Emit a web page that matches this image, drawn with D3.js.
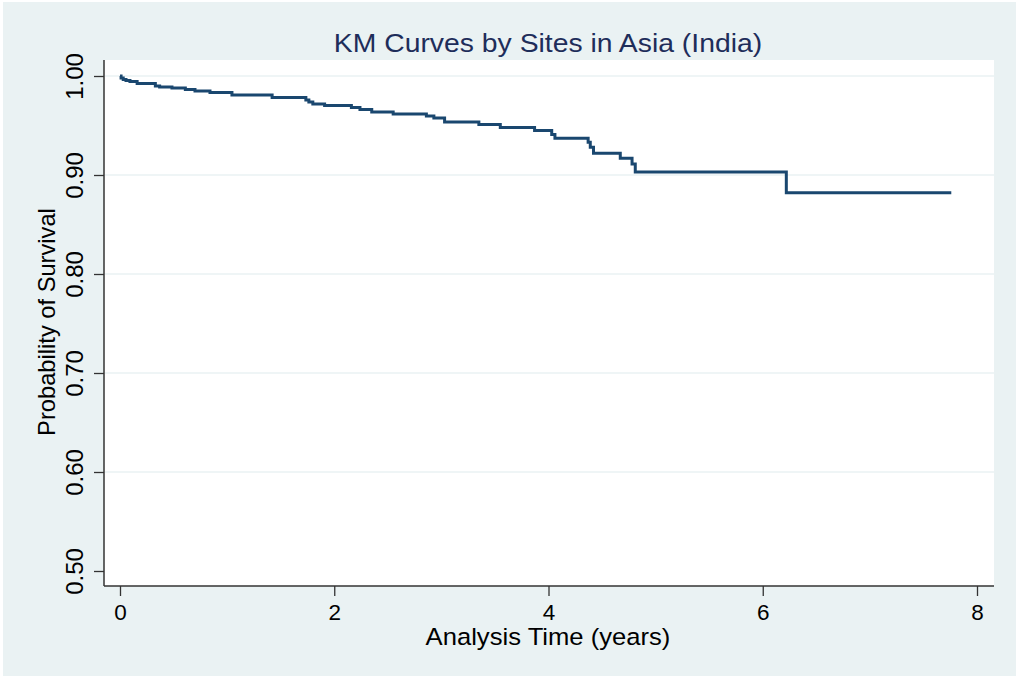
<!DOCTYPE html>
<html>
<head>
<meta charset="utf-8">
<script src="https://cdn.jsdelivr.net/npm/d3@7"></script>
<style>
  html, body { margin: 0; padding: 0; background: #ffffff; }
  svg { display: block; }
  text { font-family: "Liberation Sans", Arial, sans-serif; }
</style>
</head>
<body>
<svg id="chart" width="1019" height="678"></svg>
<script>
// Kaplan-Meier step curve: event times (years) and survival after each drop
const times    = [0, 0.01, 0.03, 0.056, 0.093, 0.16, 0.33, 0.37, 0.485, 0.61, 0.70, 0.84, 1.045, 1.42,
                  1.735, 1.763, 1.80, 1.91, 2.16, 2.24, 2.35, 2.55, 2.86, 2.93, 3.03, 3.35, 3.55, 3.87,
                  4.03, 4.06, 4.37, 4.39, 4.42, 4.67, 4.78, 4.81, 6.22];
const survival = [1.000, 0.998, 0.9965, 0.9955, 0.9944, 0.9924, 0.9899, 0.9889, 0.9879, 0.9864, 0.9848, 0.9833, 0.9808, 0.9783,
                  0.9758, 0.9737, 0.9717, 0.9702, 0.9682, 0.9662, 0.9636, 0.9616, 0.9596, 0.9576, 0.9535, 0.951, 0.948, 0.945,
                  0.941, 0.937, 0.933, 0.928, 0.922, 0.917, 0.911, 0.903, 0.882];
const lastTime = 7.76;

const xTicks = [0, 2, 4, 6, 8];
const yTicks = [0.5, 0.6, 0.7, 0.8, 0.9, 1.0];
const yGrid  = [0.6, 0.7, 0.8, 0.9, 1.0];

const titleText = "KM Curves by Sites in Asia (India)";
const xTitle = "Analysis Time (years)";
const yTitle = "Probability of Survival";

const W = 1019, H = 678;
const plot = { left: 104, right: 994, top: 60, bottom: 586 };
const stretch = 1.09;

const svg = d3.select("#chart");

// outer graph region
svg.append("rect").attr("x", 3).attr("y", 2).attr("width", W - 6).attr("height", H - 4)
  .attr("fill", "#eaf2f3");
// plot region
svg.append("rect").attr("x", plot.left).attr("y", plot.top)
  .attr("width", plot.right - plot.left).attr("height", plot.bottom - plot.top)
  .attr("fill", "#ffffff");

const x = d3.scaleLinear().domain([0, 8]).range([120, 977]);
const y = d3.scaleLinear().domain([0.5, 1.0]).range([571, 76]);

// horizontal grid lines
svg.append("g").selectAll("line").data(yGrid).join("line")
  .attr("x1", plot.left + 1).attr("x2", plot.right)
  .attr("y1", d => y(d)).attr("y2", d => y(d))
  .attr("stroke", "#eaf2f3").attr("stroke-width", 1.6);

// x axis
const xAxis = svg.append("g").attr("transform", `translate(0,${plot.bottom})`)
  .call(d3.axisBottom(x).tickValues(xTicks).tickFormat(d3.format("d")).tickSize(10).tickPadding(8));
xAxis.select(".domain").attr("d", `M${plot.left},0H${plot.right}`).attr("stroke", "#333").attr("stroke-width", 1.5);
xAxis.selectAll(".tick line").attr("stroke", "#333").attr("stroke-width", 1.3);
xAxis.selectAll(".tick text").attr("fill", "#000").attr("font-size", 22.5)
  .attr("font-family", "Liberation Sans, Arial, sans-serif");

// y axis
const yAxis = svg.append("g").attr("transform", `translate(${plot.left},0)`)
  .call(d3.axisLeft(y).tickValues(yTicks).tickFormat(d3.format(".2f")).tickSize(10).tickPadding(6));
yAxis.select(".domain").attr("d", `M0,${plot.top}V${plot.bottom}`).attr("stroke", "#333").attr("stroke-width", 1.5);
yAxis.selectAll(".tick line").attr("stroke", "#333").attr("stroke-width", 1.3);
yAxis.selectAll(".tick text")
  .attr("fill", "#000").attr("font-size", 24)
  .attr("font-family", "Liberation Sans, Arial, sans-serif")
  .attr("text-anchor", "middle")
  .attr("x", null).attr("dy", null)
  .attr("transform", "translate(-30,0) rotate(-90)")
  .attr("y", 9);

// survival curve as a step-after line
const pts = times.map((t, i) => [t, survival[i]]);
pts.push([lastTime, survival[survival.length - 1]]);
const line = d3.line().x(d => x(d[0])).y(d => y(d[1])).curve(d3.curveStepAfter);
svg.append("path").datum(pts).attr("d", line)
  .attr("fill", "none").attr("stroke", "#1a476f").attr("stroke-width", 3)
  .attr("stroke-linejoin", "miter");

// titles
svg.append("text").attr("transform", `translate(548,52) scale(${stretch},1)`)
  .attr("text-anchor", "middle").attr("font-size", 26).attr("fill", "#1e2d5a").text(titleText);
svg.append("text").attr("transform", `translate(548,645) scale(${stretch},1)`)
  .attr("text-anchor", "middle").attr("font-size", 23.5).attr("fill", "#000").text(xTitle);
svg.append("text").attr("transform", `translate(55,322) rotate(-90)`)
  .attr("text-anchor", "middle").attr("font-size", 23.7).attr("fill", "#000").text(yTitle);
</script>
</body>
</html>
